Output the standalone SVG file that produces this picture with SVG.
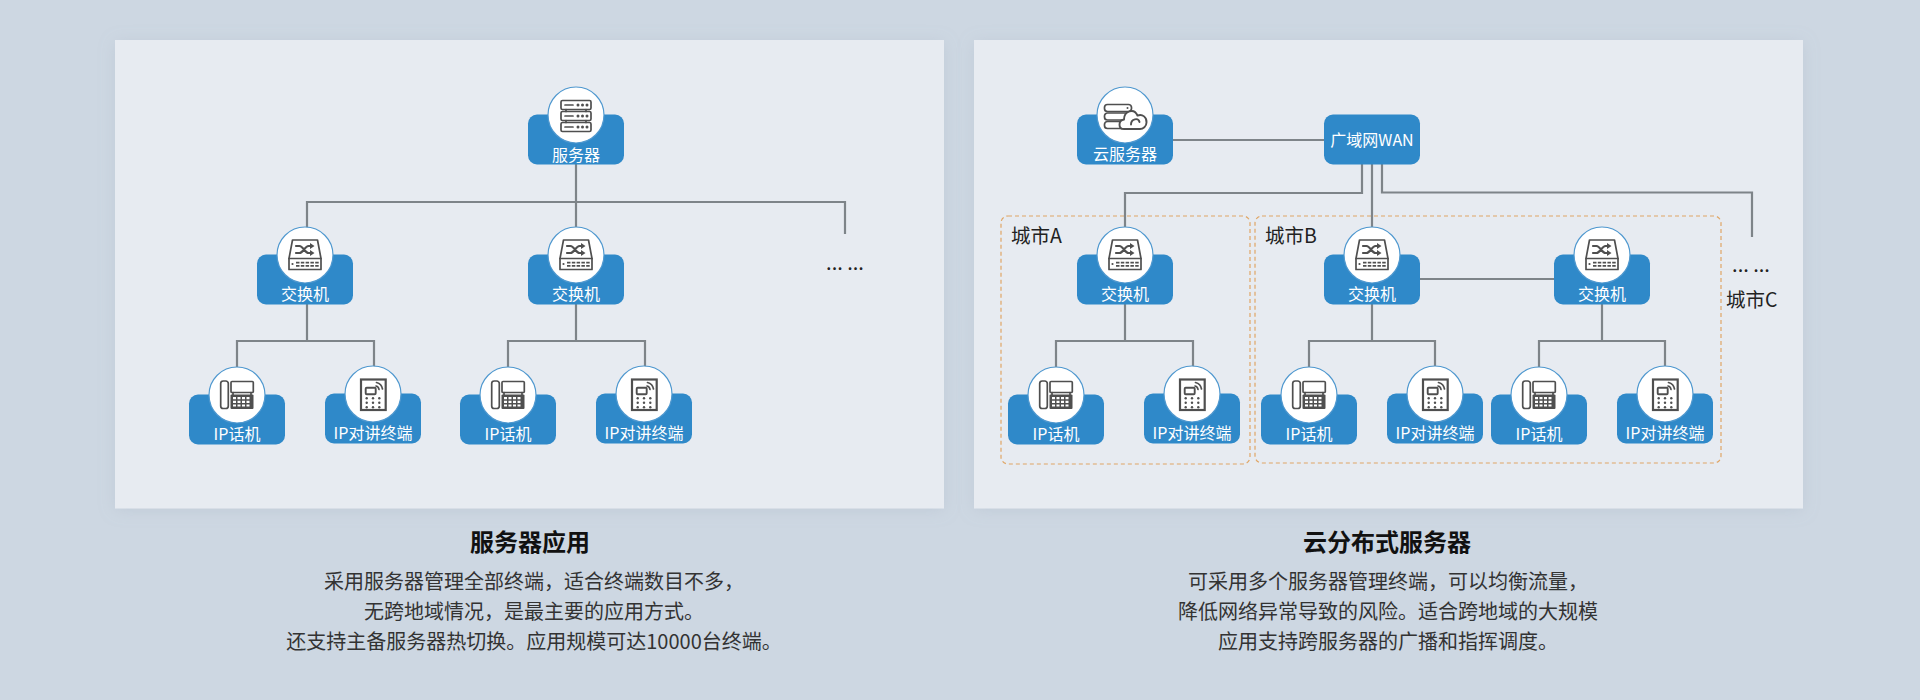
<svg xmlns="http://www.w3.org/2000/svg" width="1920" height="700" viewBox="0 0 1920 700">
<style>
text{font-family:"Noto Sans CJK SC","Noto Sans",sans-serif}
.panel{fill:#e7ebf1}
.box{fill:#2f89c9}
.disc{fill:#fff;stroke:#4f98cf;stroke-width:1.2}
.lbl{fill:#fff;font-size:16px;text-anchor:middle;font-weight:400}
.city{fill:#222;font-size:19.5px;font-weight:400}
.dots{fill:#222;font-size:20px;text-anchor:middle;font-weight:400}
.title{fill:#111;font-size:24px;font-weight:700;text-anchor:middle}
.body{fill:#333;font-size:20px;text-anchor:middle;font-weight:400}
.conn{fill:none;stroke:#7e8489;stroke-width:2.2}
.zone{fill:none;stroke:#e0a666;stroke-width:1.2;stroke-dasharray:4 3}
.ic{fill:none;stroke:#4f4f4f;stroke-width:1.7;stroke-linejoin:round;stroke-linecap:round}
.icw{fill:#fff;stroke:#4f4f4f;stroke-width:1.9;stroke-linejoin:round;stroke-linecap:round}
.d{fill:#4f4f4f}
</style>
<defs>
<filter id="sh" x="-5%" y="-5%" width="110%" height="110%"><feDropShadow dx="0" dy="2" stdDeviation="8" flood-color="#9aa8b8" flood-opacity=".25"/></filter>
<g id="i-server">
<path class="ic" d="M-10 -5V-3M10 -5V-3M-10 6V8M10 6V8"/>
<g id="srow"><rect class="ic" x="-15" y="-14" width="30" height="9" rx="1.5"/><path class="ic" d="M-11 -9.500H-3"/><circle class="d" cx="2" cy="-9.500" r="1.500"/><circle class="d" cx="6.500" cy="-9.500" r="1.500"/><circle class="d" cx="11" cy="-9.500" r="1.500"/></g>
<use href="#srow" y="11"/><use href="#srow" y="22"/>
</g>
<g id="i-switch">
<path class="ic" d="M-12.500 -14.500H12.500L16 4V15H-16V4Z"/>
<path class="ic" d="M-16 4H16"/>
<path class="ic" style="stroke-width:2.200" d="M-9 -8.500H-5.500C-2 -8.500 0 -1.500 3.500 -1.500H6M-9 -1.500H-5.500C-2 -1.500 0 -8.500 3.500 -8.500H6"/>
<path class="d" d="M5 -11.500L9.500 -8.500L5 -5.500ZM5 -4.500L9.500 -1.500L5 1.500Z"/>
<circle class="d" cx="-12.500" cy="9.500" r="1.100"/>
<path class="d" d="M-9 7.300h3.500v1.800h-3.500zM-4.200 7.300h3.500v1.800h-3.500zM.6 7.300h3.500v1.800h-3.500zM5.400 7.300h3.500v1.800h-3.500zM10.200 7.300h3.500v1.800h-3.500zM-9 10.400h3.500v1.800h-3.500zM-4.200 10.400h3.500v1.800h-3.500zM.6 10.400h3.500v1.800h-3.500zM5.400 10.400h3.500v1.800h-3.500zM10.200 10.400h3.500v1.800h-3.500z"/>
</g>
<g id="i-phone">
<rect class="ic" x="-16.300" y="-13.500" width="7.600" height="27.500" rx="2.500"/>
<rect class="ic" x="-6" y="-13" width="22.300" height="11" rx="1"/>
<path class="ic" d="M-4 -2V0.500M14 -2V0.500"/>
<rect class="d" x="-6.500" y="0" width="23" height="14.500" rx="1"/>
<path fill="#fff" d="M-4 2.500h3v2.200h-3zM.5 2.500h3v2.200h-3zM5 2.500h3v2.200h-3zM9.500 2.500h3v2.200h-3zM-4 6.200h3v2.200h-3zM.5 6.200h3v2.200h-3zM5 6.200h3v2.200h-3zM9.500 6.200h3v2.200h-3zM-4 9.900h3v2.200h-3zM.5 9.900h3v2.200h-3zM5 9.900h3v2.200h-3zM9.500 9.900h3v2.200h-3z"/>
</g>
<g id="i-intercom">
<rect class="ic" style="stroke-width:2.200;stroke-linejoin:miter" x="-12" y="-14" width="24.700" height="30.500"/>
<rect class="ic" style="stroke-width:1.900" x="-7.300" y="-5.800" width="10" height="6.600" rx="1"/>
<path class="ic" d="M3 -7.500A4 4 0 0 1 6 -4M3.500 -11A8 8 0 0 1 9.500 -4.500"/>
<g class="d"><circle cx="-6.300" cy="4.800" r="1.200"/><circle cx="0" cy="4.800" r="1.200"/><circle cx="6.300" cy="4.800" r="1.200"/><circle cx="-6.300" cy="9.300" r="1.200"/><circle cx="0" cy="9.300" r="1.200"/><circle cx="6.300" cy="9.300" r="1.200"/><circle cx="-6.300" cy="13.800" r="1.200"/><circle cx="0" cy="13.800" r="1.200"/><circle cx="6.300" cy="13.800" r="1.200"/></g>
</g>
<g id="i-cloud">
<rect class="ic" x="-20.500" y="-10" width="27" height="7" rx="3"/>
<rect class="ic" x="-20.500" y="-1.500" width="24" height="7" rx="3"/>
<rect class="ic" x="-20.500" y="7" width="20" height="7" rx="3"/>
<circle class="d" cx="2.500" cy="-6.500" r="1"/>
<path class="icw" d="M-1 14.500C-7 14.500 -7 6 -1 5C-1 -3.500 9 -7 12.500 1C17.500 -1 22 3 21.500 8C21.500 12 18 14.500 15 14.500Z"/>
<path class="ic" style="stroke-width:1.900" d="M6 10C6 4 13.500 3 14.500 7.500"/>
</g>
<g id="n-base"><rect class="box" x="-48" y="0" width="96" height="50" rx="9"/><circle class="disc" cx="0" cy="0.500" r="28"/></g>
</defs>
<rect width="1920" height="700" fill="#cdd7e2"/>
<rect class="panel" x="115" y="40" width="829" height="468.500" filter="url(#sh)"/>
<rect class="panel" x="974" y="40" width="829" height="468.500" filter="url(#sh)"/>
<g id="zones">
<rect class="zone" x="1001" y="216" width="249" height="248" rx="7"/>
<rect class="zone" x="1255" y="216" width="466" height="247" rx="7"/>
</g>
<g id="connectors">
<path class="conn" d="M307 234V202H845V234"/>
<path class="conn" d="M576 164V230"/>
<path class="conn" d="M307 303V341M237 370V341H374V370"/>
<path class="conn" d="M576 303V341M508 370V341H645V370"/>
<path class="conn" d="M1173 140H1324"/>
<path class="conn" d="M1362 164V193H1125V230"/>
<path class="conn" d="M1372 164V230"/>
<path class="conn" d="M1382 164V192.500H1752V237"/>
<path class="conn" d="M1420 279H1554"/>
<path class="conn" d="M1125 304V341M1056 370V341H1193V370"/>
<path class="conn" d="M1372 304V341M1309 370V341H1435V370"/>
<path class="conn" d="M1602 304V341M1539 370V341H1665V370"/>
</g>
<g id="n-server" transform="translate(576,114.500)"><use href="#n-base"/><use href="#i-server"/><text class="lbl" y="46">服务器</text></g>
<g id="n-sw1" transform="translate(305,254.500)"><use href="#n-base"/><use href="#i-switch"/><text class="lbl" y="45.500">交换机</text></g>
<g id="n-sw2" transform="translate(576,254.500)"><use href="#n-base"/><use href="#i-switch"/><text class="lbl" y="45.500">交换机</text></g>
<g id="n-ph1" transform="translate(237,394.500)"><use href="#n-base"/><use href="#i-phone"/><text class="lbl" y="45.500">IP话机</text></g>
<g id="n-in1" transform="translate(373,393.500)"><use href="#n-base"/><use href="#i-intercom"/><text class="lbl" y="45.500">IP对讲终端</text></g>
<g id="n-ph2" transform="translate(508,394.500)"><use href="#n-base"/><use href="#i-phone"/><text class="lbl" y="45.500">IP话机</text></g>
<g id="n-in2" transform="translate(644,393.500)"><use href="#n-base"/><use href="#i-intercom"/><text class="lbl" y="45.500">IP对讲终端</text></g>
<text id="more-left" class="dots" x="845" y="270">... ...</text>
<g id="n-cloud" transform="translate(1125,114.500)"><use href="#n-base"/><use href="#i-cloud"/><text class="lbl" y="45.500">云服务器</text></g>
<g id="n-wan" transform="translate(1372,114.500)"><rect class="box" x="-48" y="0" width="96" height="50" rx="9"/><text class="lbl" y="31">广域网WAN</text></g>
<g id="n-swa" transform="translate(1125,254.500)"><use href="#n-base"/><use href="#i-switch"/><text class="lbl" y="45.500">交换机</text></g>
<g id="n-pha" transform="translate(1056,394.500)"><use href="#n-base"/><use href="#i-phone"/><text class="lbl" y="45.500">IP话机</text></g>
<g id="n-ina" transform="translate(1192,393.500)"><use href="#n-base"/><use href="#i-intercom"/><text class="lbl" y="45.500">IP对讲终端</text></g>
<g id="n-swb1" transform="translate(1372,254.500)"><use href="#n-base"/><use href="#i-switch"/><text class="lbl" y="45.500">交换机</text></g>
<g id="n-swb2" transform="translate(1602,254.500)"><use href="#n-base"/><use href="#i-switch"/><text class="lbl" y="45.500">交换机</text></g>
<g id="n-phb1" transform="translate(1309,394.500)"><use href="#n-base"/><use href="#i-phone"/><text class="lbl" y="45.500">IP话机</text></g>
<g id="n-inb1" transform="translate(1435,393.500)"><use href="#n-base"/><use href="#i-intercom"/><text class="lbl" y="45.500">IP对讲终端</text></g>
<g id="n-phb2" transform="translate(1539,394.500)"><use href="#n-base"/><use href="#i-phone"/><text class="lbl" y="45.500">IP话机</text></g>
<g id="n-inb2" transform="translate(1665,393.500)"><use href="#n-base"/><use href="#i-intercom"/><text class="lbl" y="45.500">IP对讲终端</text></g>
<text class="city" x="1011" y="242.500">城市A</text>
<text class="city" x="1265" y="242.500">城市B</text>
<text class="city" x="1726" y="306.500">城市C</text>
<text id="more-right" class="dots" x="1751" y="272">... ...</text>
<g id="caption-left">
<text class="title" x="530" y="550.500">服务器应用</text>
<text class="body" x="534" y="588.500">采用服务器管理全部终端，适合终端数目不多，</text>
<text class="body" x="534" y="618.500">无跨地域情况，是最主要的应用方式。</text>
<text class="body" x="534" y="648.500">还支持主备服务器热切换。应用规模可达10000台终端。</text>
</g>
<g id="caption-right">
<text class="title" x="1387" y="550.500">云分布式服务器</text>
<text class="body" x="1388" y="588.500">可采用多个服务器管理终端，可以均衡流量，</text>
<text class="body" x="1388" y="618.500">降低网络异常导致的风险。适合跨地域的大规模</text>
<text class="body" x="1388" y="648.500">应用支持跨服务器的广播和指挥调度。</text>
</g>
</svg>
